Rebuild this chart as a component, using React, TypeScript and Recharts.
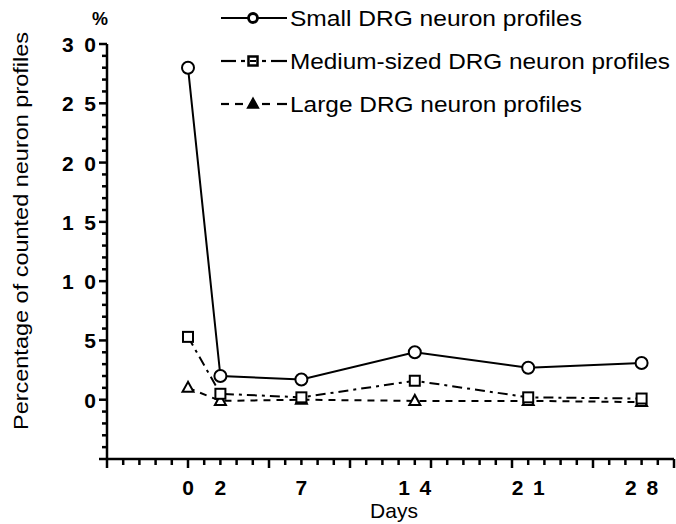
import React from 'react';
import { LineChart, Line, XAxis, YAxis, Legend } from 'recharts';

const days = [0, 2, 7, 14, 21, 28];
const smallProfiles = [28.0, 2.0, 1.7, 4.0, 2.7, 3.1];
const mediumProfiles = [5.3, 0.5, 0.2, 1.6, 0.2, 0.1];
const largeProfiles = [1.0, -0.1, 0.0, -0.1, -0.1, -0.2];

const seriesNames = ['Small DRG neuron profiles', 'Medium-sized DRG neuron profiles', 'Large DRG neuron profiles'];
const xTickLabels = [0, 2, 7, 14, 21, 28];
const yTickLabels = [0, 5, 10, 15, 20, 25, 30];
const axisTicks = [-5, -4, -3, -2, -1, 0, 1, 2, 3, 4, 5, 6, 7, 8, 9, 10, 11, 12, 13, 14, 15, 16, 17, 18, 19, 20, 21, 22, 23, 24, 25, 26, 27, 28, 29, 30];
const axisDomain = [-5, 30];

const data = days.map((d, i) => ({
  day: d,
  small: smallProfiles[i],
  medium: mediumProfiles[i],
  large: largeProfiles[i],
}));

const FONT = '"Liberation Sans", Arial, Helvetica, sans-serif';

const spaced = (v: number) => String(v).split('').join(' ');

const XTick = (props: any) => {
  const { x, y, payload } = props;
  const v = payload.value;
  const major = v % 5 === 0;
  const label = xTickLabels.includes(v);
  const s = spaced(v);
  return (
    <g>
      <line x1={x} y1={y} x2={x} y2={y + (major ? 9 : 6)} stroke="#000" strokeWidth={2.5} />
      {label && (
        <text
          x={x}
          y={y + 36}
          textAnchor="middle"
          fontFamily={FONT}
          fontWeight="bold"
          fontSize={21}
          fill="#000"
          {...(s.length > 1 ? { textLength: 33, lengthAdjust: 'spacing' } : {})}
        >
          {s}
        </text>
      )}
    </g>
  );
};

const YTick = (props: any) => {
  const { x, y, payload } = props;
  const v = payload.value;
  const major = v % 5 === 0;
  const label = yTickLabels.includes(v);
  const s = spaced(v);
  return (
    <g>
      <line x1={x} y1={y} x2={x - (major ? 8 : 5)} y2={y} stroke="#000" strokeWidth={2.5} />
      {label && (
        <text
          x={x - 11}
          y={y + 8}
          textAnchor="end"
          fontFamily={FONT}
          fontWeight="bold"
          fontSize={21}
          fill="#000"
          {...(s.length > 1 ? { textLength: 34, lengthAdjust: 'spacing' } : {})}
        >
          {s}
        </text>
      )}
    </g>
  );
};

const circleDot = (p: any) => (
  <circle key={`c${p.index}`} cx={p.cx} cy={p.cy} r={6} fill="#fff" stroke="#000" strokeWidth={2} />
);
const squareDot = (p: any) => (
  <rect key={`s${p.index}`} x={p.cx - 5} y={p.cy - 5} width={10} height={10} fill="#fff" stroke="#000" strokeWidth={2} />
);
const triDot = (p: any) => (
  <polygon
    key={`t${p.index}`}
    points={`${p.cx},${p.cy - 6} ${p.cx - 5.5},${p.cy + 4} ${p.cx + 5.5},${p.cy + 4}`}
    fill="#fff"
    stroke="#000"
    strokeWidth={2}
  />
);

const legendWidths = [292, 380, 292];
const legendSegments = [
  [[221, 287]],
  [[221, 236], [241, 245], [262, 266], [271, 287]],
  [[221, 229], [235, 243], [262, 270], [277, 287]],
];

const LegendContent = () => (
  <svg width={676} height={125} style={{ display: 'block' }}>
    {seriesNames.map((name, i) => {
      const cy = 18 + i * 43;
      const mx = 253;
      return (
        <g key={name}>
          {legendSegments[i].map(([a, b], j) => (
            <line key={j} x1={a} y1={cy} x2={b} y2={cy} stroke="#000" strokeWidth={2.2} />
          ))}
          {i === 0 && <circle cx={mx} cy={cy} r={4.5} fill="#fff" stroke="#000" strokeWidth={2.8} />}
          {i === 1 && (
            <g>
              <rect x={mx - 4.5} y={cy - 4.5} width={9} height={9} fill="#fff" stroke="#000" strokeWidth={2.5} />
              <line x1={mx - 3} y1={cy} x2={mx + 3} y2={cy} stroke="#000" strokeWidth={2} />
            </g>
          )}
          {i === 2 && (
            <polygon points={`${mx},${cy - 6} ${mx - 5.5},${cy + 4} ${mx + 5.5},${cy + 4}`} fill="#000" stroke="#000" strokeWidth={1.5} />
          )}
          <text
            x={290}
            y={cy + 8}
            fontFamily={FONT}
            fontSize={22}
            fill="#000"
            textLength={legendWidths[i]}
            lengthAdjust="spacingAndGlyphs"
          >
            {name}
          </text>
        </g>
      );
    })}
  </svg>
);

const YLabel = () => (
  <g>
    <text
      transform="translate(28, 231) rotate(-90)"
      textAnchor="middle"
      fontFamily={FONT}
      fontSize={21}
      fill="#000"
      textLength={398}
      lengthAdjust="spacingAndGlyphs"
    >
      Percentage of counted neuron profiles
    </text>
    <text x={100} y={25} textAnchor="middle" fontFamily={FONT} fontWeight="bold" fontSize={18} fill="#000">
      %
    </text>
  </g>
);

const XLabel = () => (
  <text x={394} y={518} textAnchor="middle" fontFamily={FONT} fontSize={21} fill="#000">
    Days
  </text>
);

export default function App() {
  return (
    <div style={{ position: 'absolute', left: 0, top: 0, width: 676, height: 524, background: '#fff' }}>
      <LineChart width={676} height={524} data={data} margin={{ top: 44, right: 2, bottom: 0, left: 0 }}>
        <XAxis
          dataKey="day"
          type="number"
          domain={axisDomain}
          ticks={axisTicks}
          interval={0}
          height={65}
          tickSize={0}
          tickMargin={0}
          tickLine={false}
          tick={<XTick />}
          axisLine={{ stroke: '#000', strokeWidth: 2.5 }}
          allowDataOverflow
          label={{ content: <XLabel /> }}
        />
        <YAxis
          type="number"
          domain={axisDomain}
          ticks={axisTicks}
          interval={0}
          width={107}
          tickSize={0}
          tickMargin={0}
          tickLine={false}
          tick={<YTick />}
          axisLine={{ stroke: '#000', strokeWidth: 2.5 }}
          allowDataOverflow
          label={{ content: <YLabel /> }}
        />
        <Legend
          layout="horizontal"
          verticalAlign="middle"
          align="center"
          wrapperStyle={{ top: 0, left: 0, width: 676, height: 125 }}
          content={<LegendContent />}
        />
        <Line
          dataKey="large"
          name={seriesNames[2]}
          stroke="#000"
          strokeWidth={2}
          strokeDasharray="7 6"
          dot={triDot}
          isAnimationActive={false}
        />
        <Line
          dataKey="medium"
          name={seriesNames[1]}
          stroke="#000"
          strokeWidth={2}
          strokeDasharray="10 5 3 5"
          dot={squareDot}
          isAnimationActive={false}
        />
        <Line
          dataKey="small"
          name={seriesNames[0]}
          stroke="#000"
          strokeWidth={2}
          dot={circleDot}
          isAnimationActive={false}
        />
      </LineChart>
    </div>
  );
}
